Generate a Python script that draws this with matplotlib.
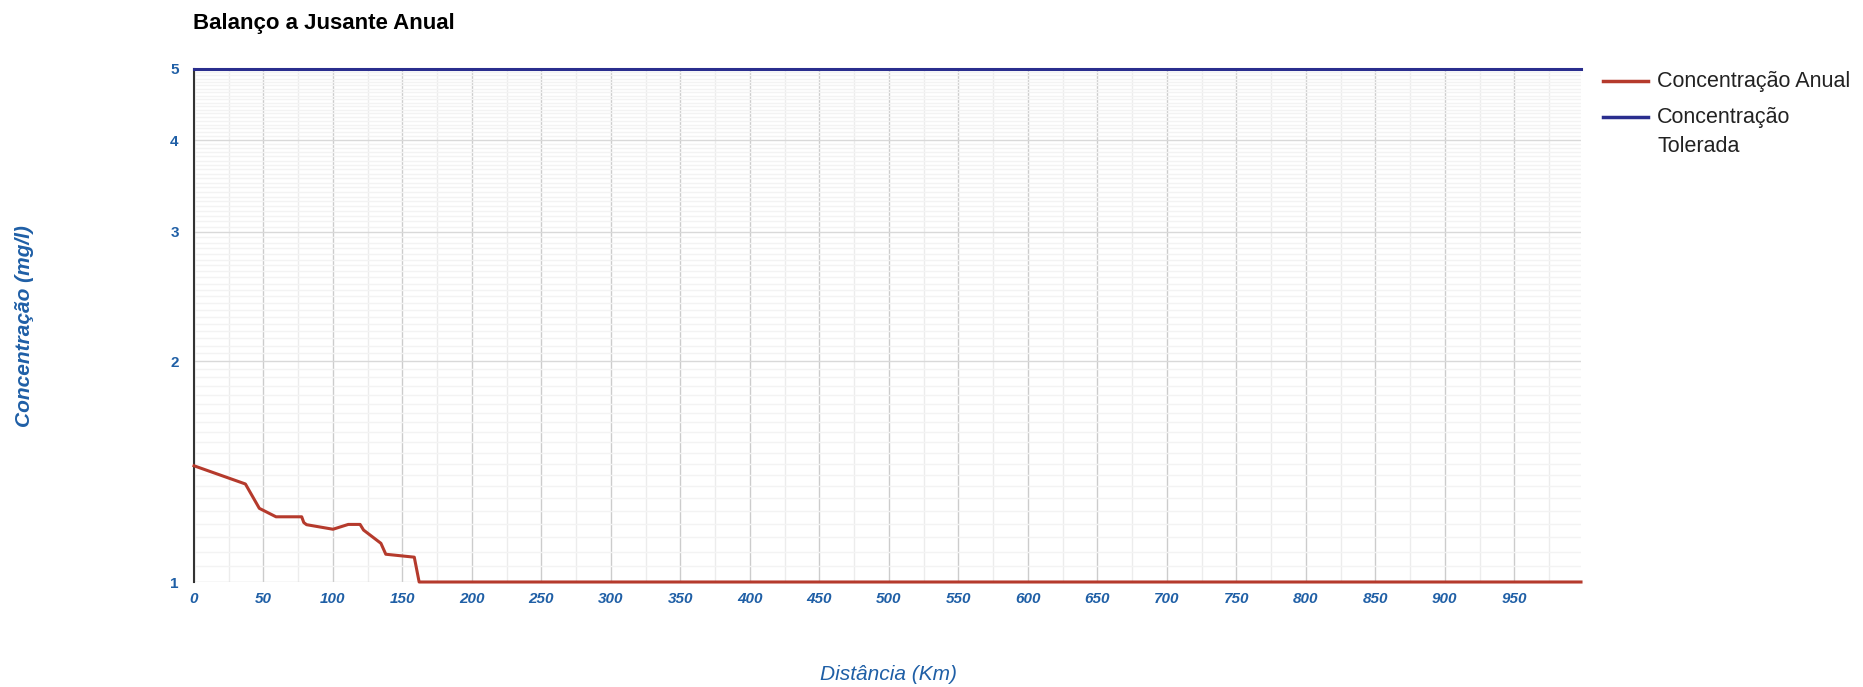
import numpy as np
import matplotlib
matplotlib.use("Agg")
import matplotlib.pyplot as plt
from matplotlib.lines import Line2D
from matplotlib.ticker import FixedLocator, FixedFormatter, NullFormatter

plt.rcParams['font.family'] = ['Liberation Sans', 'DejaVu Sans']

# Data
dist_anual = [0, 37, 47, 59, 77.5, 79, 81, 100, 111, 119.5, 122, 134.5, 138, 158.5, 162, 998]
conc_anual = [1.44, 1.36, 1.26, 1.227, 1.227, 1.205, 1.197, 1.18, 1.198, 1.198, 1.177, 1.129, 1.091, 1.081, 1.0, 1.0]
dist_tol = [0, 998]
conc_tol = [5, 5]
x_ticks = list(range(0, 1000, 50))
y_ticks = [1, 2, 3, 4, 5]
y_tick_labels = ['1', '2', '3', '4', '5']

title = 'Balanço a Jusante Anual'
xlabel = 'Distância (Km)'
ylabel = 'Concentração (mg/l)'
labels = ['Concentração Anual', 'Concentração\nTolerada']

BLUE_TXT = '#1f5fa6'
RED = '#b53a2c'
NAVY = '#2a2e8e'

W, H = 1863, 687
fig = plt.figure(figsize=(W / 100, H / 100), dpi=100)
ax = fig.add_axes([194 / W, 1 - 582 / H, (1581 - 194) / W, (582 - 69) / H])

ax.set_yscale('log')
ax.set_ylim(1, 5)
ax.set_xlim(0, 998)

ax.yaxis.set_major_locator(FixedLocator(y_ticks))
ax.yaxis.set_major_formatter(FixedFormatter(y_tick_labels))
ax.yaxis.set_minor_locator(FixedLocator(list(np.arange(1.05, 5.0, 0.05))))
ax.yaxis.set_minor_formatter(NullFormatter())
ax.xaxis.set_major_locator(FixedLocator(x_ticks))
ax.xaxis.set_minor_locator(FixedLocator(list(range(25, 1000, 50))))

ax.grid(which='major', axis='x', color='#cccccc', lw=1.0)
ax.grid(which='minor', axis='x', color='#ececec', lw=1.0)
ax.grid(which='major', axis='y', color='#d9d9d9', lw=1.0)
ax.grid(which='minor', axis='y', color='#f3f3f3', lw=1.0)
ax.set_axisbelow(True)

for s in ['top', 'right', 'bottom']:
    ax.spines[s].set_visible(False)
ax.spines['left'].set_color('#333333')
ax.spines['left'].set_linewidth(1.5)

ax.tick_params(which='both', length=0)
ax.tick_params(axis='y', pad=11)
ax.tick_params(axis='x', pad=7)
for t in ax.get_xticklabels():
    t.set_fontsize(11); t.set_fontweight('bold'); t.set_fontstyle('italic'); t.set_color(BLUE_TXT)
for t in ax.get_yticklabels():
    t.set_fontsize(11); t.set_fontweight('bold'); t.set_color(BLUE_TXT)

l1, = ax.plot(dist_anual, conc_anual, color=RED, lw=2.2, clip_on=False, zorder=4)
l2, = ax.plot(dist_tol, conc_tol, color=NAVY, lw=2.2, clip_on=False, zorder=4)

fig.text(193 / W, 1 - 23 / H, title, fontsize=16, fontweight='bold', color='#000000',
         ha='left', va='center')
fig.text(889 / W, 1 - 675 / H, xlabel, fontsize=15, fontstyle='italic', color=BLUE_TXT,
         ha='center', va='center')
fig.text(25 / W, 1 - 326 / H, ylabel, fontsize=15, fontstyle='italic', fontweight='bold',
         color=BLUE_TXT, ha='center', va='center', rotation=90)

# legend (drawn manually to match wrapped layout)
leg_rows = [(l1.get_color(), 81, labels[0]), (l2.get_color(), 117, labels[1])]
for color, yy, lab in leg_rows:
    fig.add_artist(Line2D([1603 / W, 1648 / W], [1 - yy / H, 1 - yy / H],
                          color=color, lw=2.5, transform=fig.transFigure))
    lines = lab.split('\n')
    for i, ln in enumerate(lines):
        fig.text(1657 / W, 1 - (yy + 30 * i) / H, ln, fontsize=15.5, color='#222222',
                 ha='left', va='center')

fig.savefig('out.png', dpi=100)
